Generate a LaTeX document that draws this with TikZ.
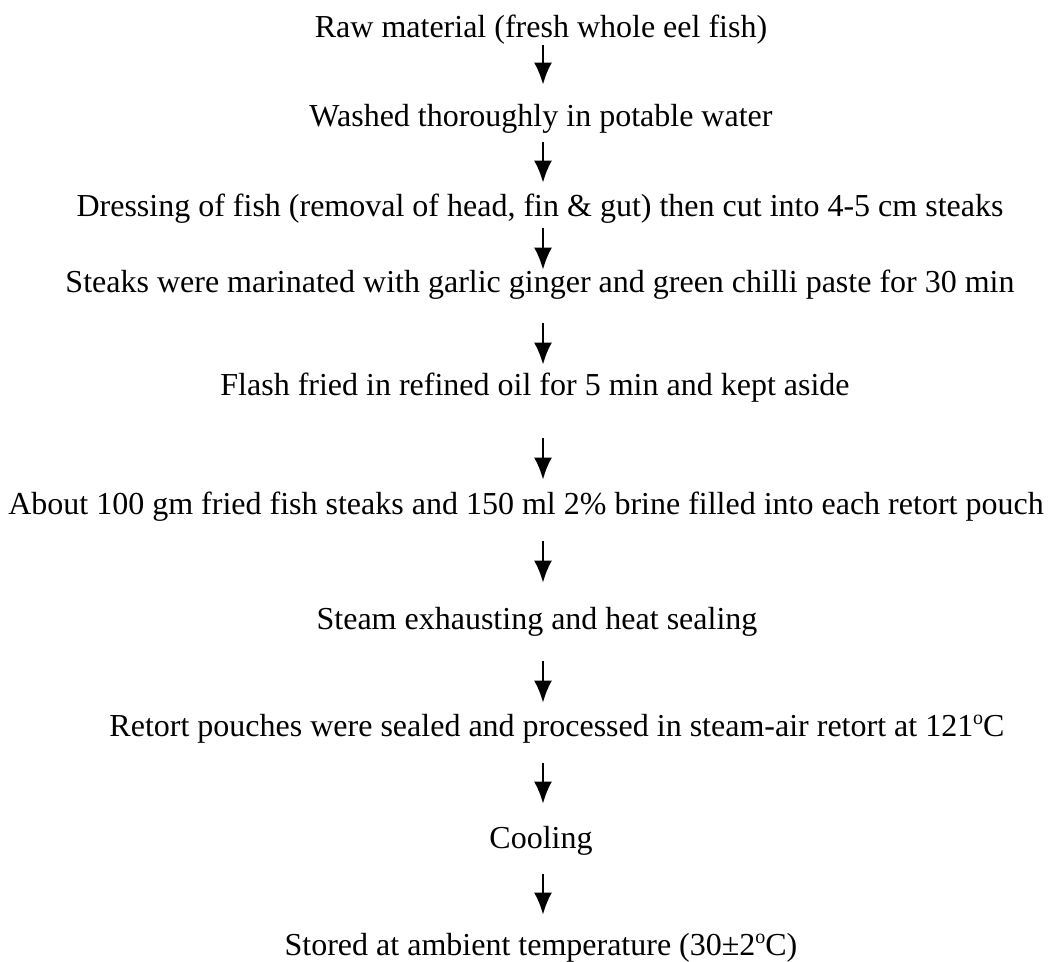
\documentclass[tikz,border=0pt]{standalone}
\usepackage{fontspec}
\setmainfont{Liberation Serif}
\usetikzlibrary{arrows.meta}

\newcommand{\degsign}{\raisebox{0.75ex}{\fontsize{10}{10}\selectfont o}}

\begin{document}
\begin{tikzpicture}[x=0.5pt,y=-0.5pt,
  stepnode/.style={anchor=base,inner sep=0pt,text height=10pt,text depth=3pt,font=\fontsize{16}{19}\selectfont},
  flow/.style={line width=1.1pt,-{Latex[length=11pt,width=9pt]}}]

\useasboundingbox (0,0) rectangle (1049,962);

% the steps, top to bottom
\node[stepnode] (s1) at (541,38) {Raw material (fresh whole eel fish)};
\node[stepnode] (s2) at (541,127) {Washed thoroughly in potable water};
\node[stepnode] (s3) at (540,217) {Dressing of fish (removal of head, fin \& gut) then cut into 4-5 cm steaks};
\node[stepnode] (s4) at (540,293) {Steaks were marinated with garlic ginger and green chilli paste for 30 min};
\node[stepnode] (s5) at (535,395) {Flash fried in refined oil for 5 min and kept aside};
\node[stepnode] (s6) at (526,514) {About 100 gm fried fish steaks and 150 ml 2\% brine filled into each retort pouch};
\node[stepnode] (s7) at (537,629) {Steam exhausting and heat sealing};
\node[stepnode] (s8) at (557,736) {Retort pouches were sealed and processed in steam-air retort at 121\degsign C};
\node[stepnode] (s9) at (541,848) {Cooling};
\node[stepnode] (s10) at (541,955) {Stored at ambient temperature (30±2\degsign C)};

% arrow column
\coordinate (ar) at (543,0);

% arrows: from / to / gap above / gap below
\foreach \a/\b/\top/\bot in {s1/s2/0.5/11, s2/s3/4.5/7, s3/s4/2.5/1.5,
  s4/s5/12/5, s5/s6/18.5/7, s6/s7/10.5/13, s7/s8/13/6.5,
  s8/s9/10.5/12, s9/s10/10/10}
  \draw[flow,shorten <=\top pt,shorten >=\bot pt] (\a.south -| ar) -- (\b.north -| ar);

\end{tikzpicture}
\end{document}
